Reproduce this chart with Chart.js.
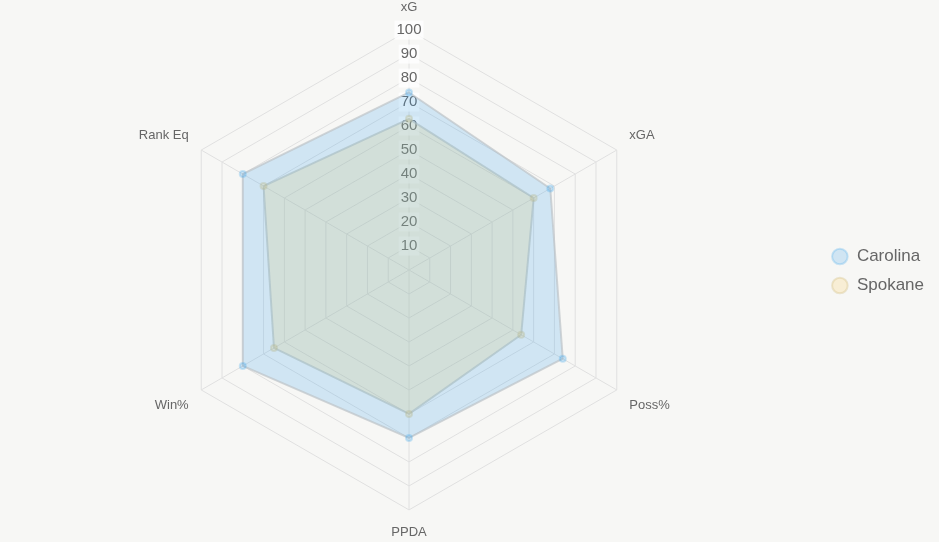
<!DOCTYPE html>
<html>
<head>
<meta charset="utf-8">
<script src="https://cdn.jsdelivr.net/npm/chart.js@4"></script>
<style>
    html, body { margin: 0; padding: 0; background: #f7f7f5; }
    #wrap { width: 939px; height: 542px; }
</style>
</head>
<body>
<div id="wrap"><canvas id="radarChart"></canvas></div>
<script>
const labels = ['xG', 'xGA', 'Poss%', 'PPDA', 'Win%', 'Rank Eq'];
const carolinaValues = [74, 68, 74, 70, 80, 80];
const spokaneValues = [63, 60, 54, 60, 65, 70];

const ctx = document.getElementById('radarChart').getContext('2d');

new Chart(ctx, {
    type: 'radar',
    data: {
        labels: labels,
        datasets: [{
            label: 'Carolina',
            data: carolinaValues,
            backgroundColor: 'rgba(54, 162, 235, 0.2)',
            borderColor: 'rgba(190, 195, 200, 0.7)',
            borderWidth: 2,
            pointBackgroundColor: 'rgba(54, 162, 235, 0.2)',
            pointBorderColor: 'rgba(54, 162, 235, 0.25)',
            pointRadius: 3
        }, {
            label: 'Spokane',
            data: spokaneValues,
            backgroundColor: 'rgba(255, 206, 86, 0.2)',
            borderColor: 'rgba(200, 200, 190, 0.7)',
            borderWidth: 2,
            pointBackgroundColor: 'rgba(255, 206, 86, 0.2)',
            pointBorderColor: 'rgba(210, 190, 130, 0.35)',
            pointRadius: 3
        }]
    },
    options: {
        responsive: true,
        maintainAspectRatio: false,
        animation: false,
        layout: { padding: { top: 1, bottom: 1, left: 0, right: 5 } },
        plugins: {
            legend: {
                display: true,
                position: 'right',
                labels: {
                    usePointStyle: true,
                    pointStyle: 'circle',
                    boxHeight: 11,
                    color: '#666',
                    font: { size: 17, family: 'Arial, "Liberation Sans", sans-serif' },
                    padding: 12
                }
            },
            tooltip: { enabled: false }
        },
        scales: {
            r: {
                min: 0,
                max: 100,
                ticks: {
                    stepSize: 10,
                    color: '#666',
                    font: { size: 15, family: 'Arial, "Liberation Sans", sans-serif' },
                    backdropColor: 'rgba(255, 255, 255, 0.75)'
                },
                grid: { color: '#e0e0e0' },
                angleLines: { color: '#e0e0e0' },
                pointLabels: {
                    color: '#666',
                    font: { size: 13, family: 'Arial, "Liberation Sans", sans-serif' }
                }
            }
        }
    }
});
</script>
</body>
</html>
